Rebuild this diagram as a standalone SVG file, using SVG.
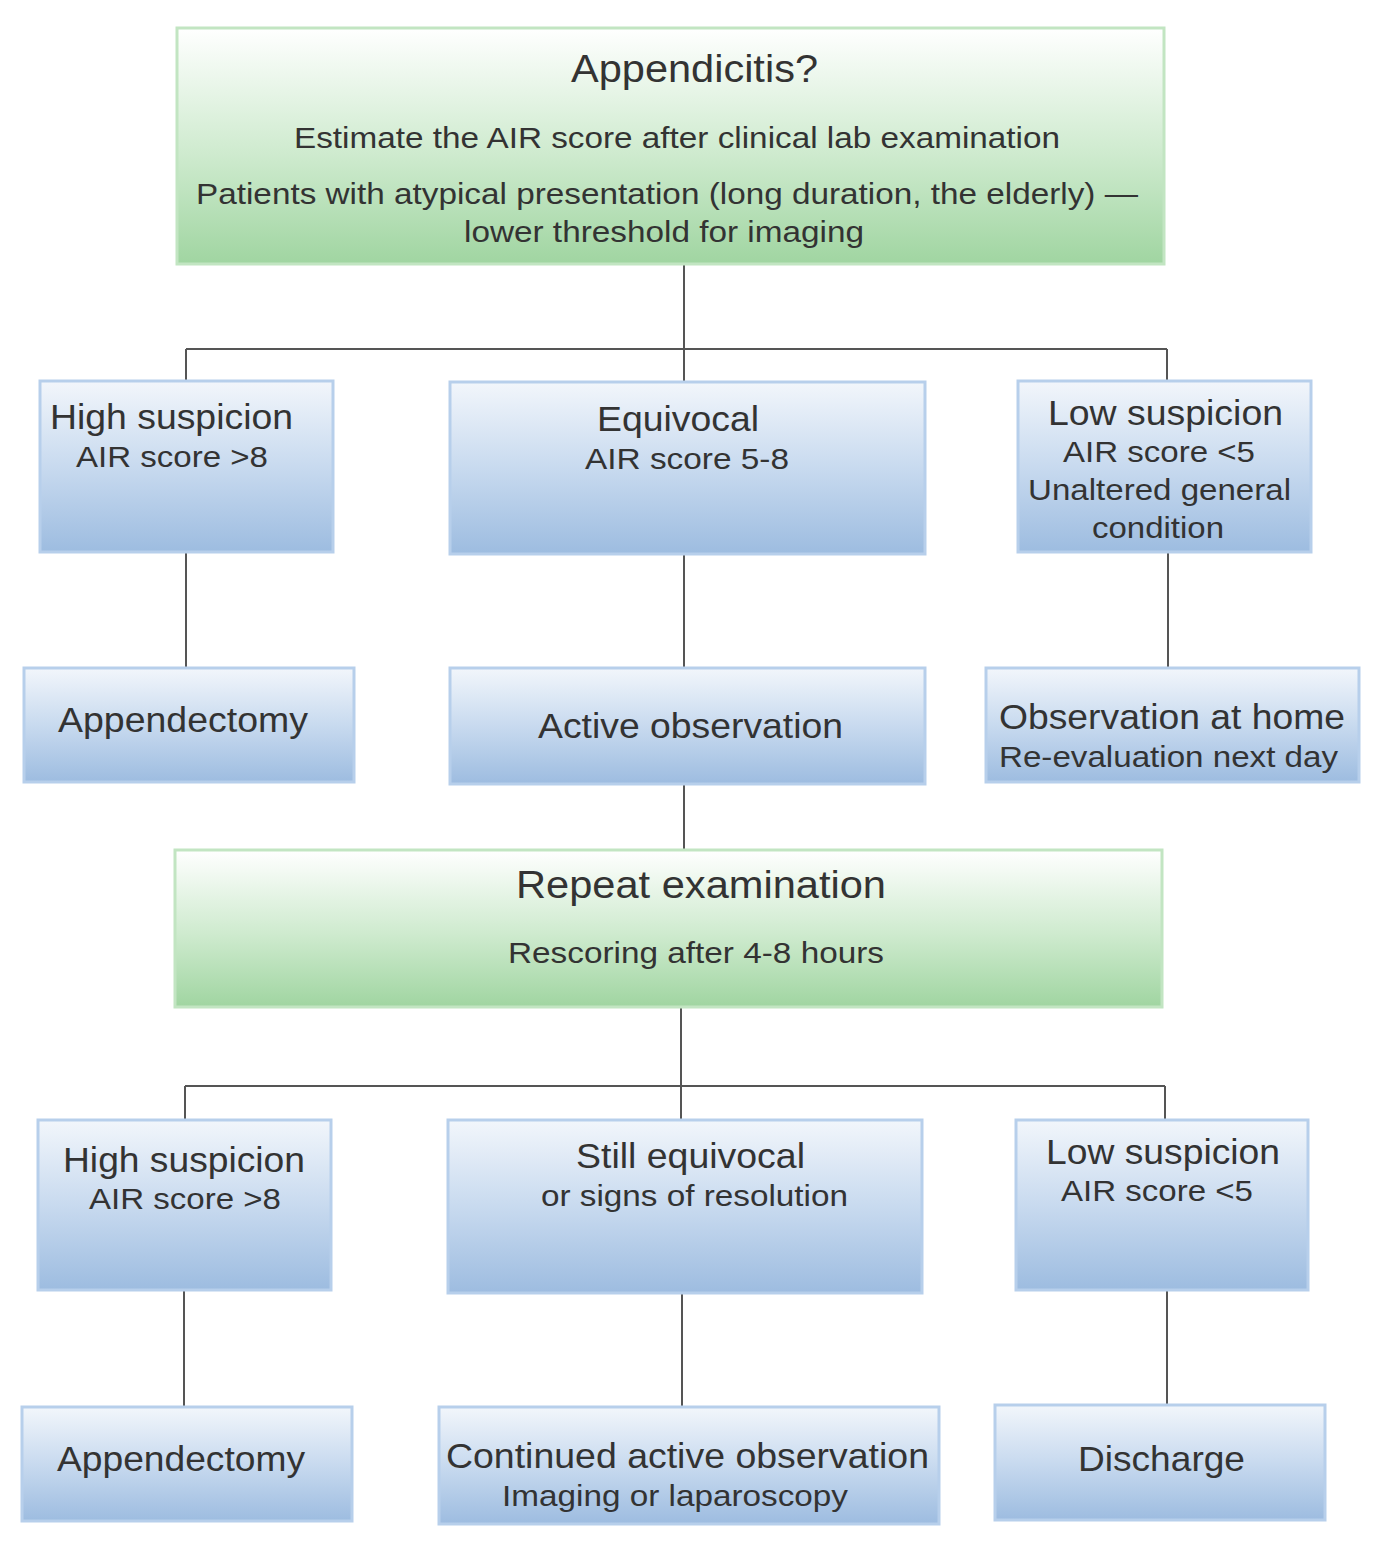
<svg xmlns="http://www.w3.org/2000/svg" width="1386" height="1541" viewBox="0 0 1386 1541">
<defs>
<linearGradient id="gGreen" x1="0" y1="0" x2="0" y2="1">
<stop offset="0" stop-color="#ffffff"/>
<stop offset="0.55" stop-color="#cdeacd"/>
<stop offset="1" stop-color="#a0d5a1"/>
</linearGradient>
<linearGradient id="gBlue" x1="0" y1="0" x2="0" y2="1">
<stop offset="0" stop-color="#f2f6fb"/>
<stop offset="0.5" stop-color="#c8daef"/>
<stop offset="1" stop-color="#9dbce0"/>
</linearGradient>
</defs>
<style>
.green{fill:url(#gGreen);stroke:#c2e5c2;stroke-width:3}
.blue{fill:url(#gBlue);stroke:#b7cfeb;stroke-width:3}
text{font-family:"Liberation Sans",Arial,sans-serif;fill:#333333;lengthAdjust:spacingAndGlyphs}
.t1{font-size:38px}
.t2{font-size:30px}
.h{font-size:35px}
.s{font-size:30px}
.conn{stroke:#555555;stroke-width:2;fill:none}
</style>
<rect width="1386" height="1541" fill="#ffffff"/>
<g id="connectors">
<path class="conn" d="M684 264V381M186 349H1167M186 349V381M1167 349V381"/>
<path class="conn" d="M186 552V668M684 554V668M1168 552V668"/>
<path class="conn" d="M684 784V850"/>
<path class="conn" d="M681 1007V1120M185 1086H1165M185 1086V1120M1165 1086V1120"/>
<path class="conn" d="M184 1290V1407M682 1293V1407M1167 1290V1405"/>
</g>
<g id="n_appendicitis">
<rect class="green" x="177" y="28" width="987" height="236"/>
<text class="t1" x="571" y="82" textLength="247" lengthAdjust="spacingAndGlyphs">Appendicitis?</text>
<text class="t2" x="294" y="148" textLength="766" lengthAdjust="spacingAndGlyphs">Estimate the AIR score after clinical lab examination</text>
<text class="t2" x="196" y="204" textLength="942" lengthAdjust="spacingAndGlyphs">Patients with atypical presentation (long duration, the elderly) —</text>
<text class="t2" x="464" y="242" textLength="400" lengthAdjust="spacingAndGlyphs">lower threshold for imaging</text>
</g>
<g id="n_high1">
<rect class="blue" x="40" y="381" width="293" height="171"/>
<text class="h" x="50" y="429" textLength="243" lengthAdjust="spacingAndGlyphs">High suspicion</text>
<text class="s" x="76" y="467" textLength="192" lengthAdjust="spacingAndGlyphs">AIR score &gt;8</text>
</g>
<g id="n_equivocal">
<rect class="blue" x="450" y="382" width="475" height="172"/>
<text class="h" x="597" y="431" textLength="162" lengthAdjust="spacingAndGlyphs">Equivocal</text>
<text class="s" x="585" y="469" textLength="204" lengthAdjust="spacingAndGlyphs">AIR score 5-8</text>
</g>
<g id="n_low1">
<rect class="blue" x="1018" y="381" width="293" height="171"/>
<text class="h" x="1048" y="425" textLength="235" lengthAdjust="spacingAndGlyphs">Low suspicion</text>
<text class="s" x="1063" y="462" textLength="192" lengthAdjust="spacingAndGlyphs">AIR score &lt;5</text>
<text class="s" x="1028" y="500" textLength="263" lengthAdjust="spacingAndGlyphs">Unaltered general</text>
<text class="s" x="1092" y="538" textLength="132" lengthAdjust="spacingAndGlyphs">condition</text>
</g>
<g id="n_appendectomy1">
<rect class="blue" x="24" y="668" width="330" height="114"/>
<text class="h" x="58" y="732" textLength="250" lengthAdjust="spacingAndGlyphs">Appendectomy</text>
</g>
<g id="n_active">
<rect class="blue" x="450" y="668" width="475" height="116"/>
<text class="h" x="538" y="738" textLength="305" lengthAdjust="spacingAndGlyphs">Active observation</text>
</g>
<g id="n_home">
<rect class="blue" x="986" y="668" width="373" height="114"/>
<text class="h" x="999" y="729" textLength="346" lengthAdjust="spacingAndGlyphs">Observation at home</text>
<text class="s" x="999" y="767" textLength="339" lengthAdjust="spacingAndGlyphs">Re-evaluation next day</text>
</g>
<g id="n_repeat">
<rect class="green" x="175" y="850" width="987" height="157"/>
<text class="t1" x="516" y="898" textLength="370" lengthAdjust="spacingAndGlyphs">Repeat examination</text>
<text class="t2" x="508" y="963" textLength="376" lengthAdjust="spacingAndGlyphs">Rescoring after 4-8 hours</text>
</g>
<g id="n_high2">
<rect class="blue" x="38" y="1120" width="293" height="170"/>
<text class="h" x="63" y="1172" textLength="242" lengthAdjust="spacingAndGlyphs">High suspicion</text>
<text class="s" x="89" y="1209" textLength="192" lengthAdjust="spacingAndGlyphs">AIR score &gt;8</text>
</g>
<g id="n_still">
<rect class="blue" x="448" y="1120" width="474" height="173"/>
<text class="h" x="576" y="1168" textLength="229" lengthAdjust="spacingAndGlyphs">Still equivocal</text>
<text class="s" x="541" y="1206" textLength="307" lengthAdjust="spacingAndGlyphs">or signs of resolution</text>
</g>
<g id="n_low2">
<rect class="blue" x="1016" y="1120" width="292" height="170"/>
<text class="h" x="1046" y="1164" textLength="234" lengthAdjust="spacingAndGlyphs">Low suspicion</text>
<text class="s" x="1061" y="1201" textLength="192" lengthAdjust="spacingAndGlyphs">AIR score &lt;5</text>
</g>
<g id="n_appendectomy2">
<rect class="blue" x="22" y="1407" width="330" height="114"/>
<text class="h" x="57" y="1471" textLength="248" lengthAdjust="spacingAndGlyphs">Appendectomy</text>
</g>
<g id="n_continued">
<rect class="blue" x="439" y="1407" width="500" height="117"/>
<text class="h" x="446" y="1468" textLength="483" lengthAdjust="spacingAndGlyphs">Continued active observation</text>
<text class="s" x="502" y="1506" textLength="346" lengthAdjust="spacingAndGlyphs">Imaging or laparoscopy</text>
</g>
<g id="n_discharge">
<rect class="blue" x="995" y="1405" width="330" height="115"/>
<text class="h" x="1078" y="1471" textLength="167" lengthAdjust="spacingAndGlyphs">Discharge</text>
</g>
</svg>
